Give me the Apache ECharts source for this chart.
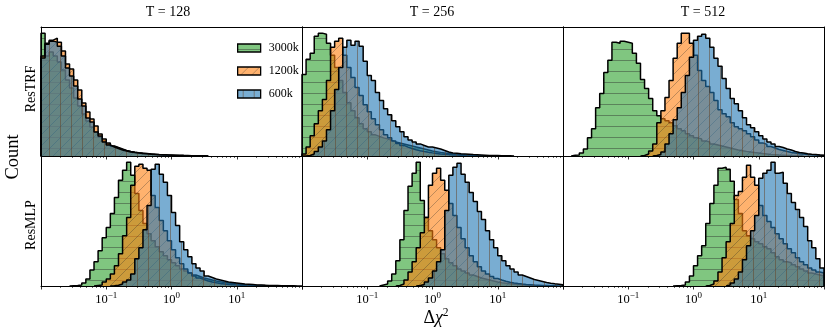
<!DOCTYPE html>
<html>
<head>
<meta charset="utf-8">
<script src="https://cdn.jsdelivr.net/npm/echarts@6/dist/echarts.min.js"></script>
<style>
html,body{margin:0;padding:0;background:#fff;}
#c{width:831px;height:335px;}
</style>
</head>
<body>
<div id="c"></div>
<script>
// ---------------- DATA ----------------
// Histogram bins: log-spaced, 16 bins per decade, from 10^-2 to 10^2
const BIN_LOG_MIN = -2;
const BINS_PER_DECADE = 16;
const columnTitles = ['T = 128', 'T = 256', 'T = 512'];
const rowLabels = ['ResTRF', 'ResMLP'];
const seriesNames = ['3000k', '1200k', '600k'];
const tickLabelValues = [0.1, 1, 10];

// first bin index of each histogram (panel order: TRF128, TRF256, TRF512, MLP128, MLP256, MLP512)
const firstBins = [[0, 0, 0], [0, 0, 0], [2, 19, 22], [7, 13, 17], [19, 23, 28], [27, 35, 40]];

// counts per bin (arbitrary count units)
const trf128_3000k = [123,100,104,100,94,86,76,68,58,50,42,35,29,24,19,15,12,9.5,8,6.5,5.3,4.4,3.7,3.1,2.6,2.2,1.9,1.6,1.3,1.1,0.9,0.8,0.6,0.5,0.4,0.35,0.3,0.2,0.15,0.1,0.1];
const trf128_1200k = [100,113,116,118,114,105,92,87,76,66,53,44,37,30,22,17,13,10,8.5,7,5.5,4.5,3.8,3.2,2.8,2.4,2,1.7,1.4,1.2,1,0.8,0.7,0.6,0.5,0.4,0.3,0.25,0.2,0.15,0.1];
const trf128_600k  = [98,112,115,114,110,100,88,80,70,57,50,38,34,24,20,14,11,9,7.5,6,5,4,3.4,3,2.6,2.2,1.8,1.5,1.3,1.1,0.9,0.8,0.6,0.5,0.4,0.35,0.3,0.2,0.15,0.1,0.1];

const trf256_3000k = [81,96,102,119,122,121,112,100,88,75,63,53,45,38,32,27,24,21,19.5,18,17,15.5,14,13,12,11,10,9,8,7,6,5,4.3,3.6,3,2.5,2,1.6,1.3,1,0.8,0.6,0.4,0.3,0.2,0.1];
const trf256_1200k = [2,9,20,32,45,56,75,108,114,117,100,88,78,68,60,51,44,37,31,26,21,18,15,12.5,10.5,8.8,7.4,6.2,5.2,4.4,3.7,3.1,2.6,2.1,1.7,1.4,1.1,0.9,0.7,0.5,0.4,0.3,0.2,0.1];
const trf256_600k  = [0,0.5,2,4.5,9,15,26,45,66,88,108,115,110,114,109,94,80,75,63,55,47,41,35,29,24,19,16,14,12,10.5,9,9,8,7,5.5,4,3,2.7,2.3,2,1.7,1.4,1.2,1,0.8,0.6,0.5,0.4,0.3,0.2,0.2,0.1];

const trf512_3000k = [0.7,1,3,7,18,27,48,62,83,95,113,112,114,113,112,102,92,76,67,57,45,40,37,35,33,30,27,25,22,20,18,17,15,14,12,11,10,9,8,7,6,5.3,4.6,4,3.4,2.9,2.4,2,1.6,1.3,1,0.8,0.6,0.4,0.3,0.2,0.1];
const trf512_1200k = [0.5,2,5,12,33,45,58,75,97,112,122,122,112,100,85,75,69,63,55,46,42,39,33,29,27,25,22,19,16,13,11.5,9.5,8,6.5,5.5,4.5,3.5,3,2.3,2,1.6,1.3,1,0.8,0.6];
const trf512_600k  = [0.5,1.5,4,12,22,36,48,63,80,98,115,119,121,117,108,97,89,77,67,57,52,45,38,31,28,24,20,17,14,12,9.5,8.5,7,6,4.5,3.5,3,2.3,1.8,1.5,1,0.7];

const mlp128_3000k = [0.3,0.6,1,3,7,16,24,35,48,58,72,88,105,115,123,110,92,75,62,52,45,39,34,30,26,23,20,17,15,13,11,9.5,8,7,6,5,4.2,3.5,2.9,2.4,2,1.6,1.3,1,0.8,0.6,0.5,0.4,0.3,0.2,0.1];
const mlp128_1200k = [0.5,1,4,7,12,20,32,50,68,100,119,121,117,115,90,78,65,55,45,36,28,22,17,13,10,8,6.5,5,4,3.2,2.5,2,1.6,1.3,1,0.8,0.6,0.4,0.3,0.2,0.1];
const mlp128_600k  = [0.3,0.8,2,4,6,12,27,38,56,80,116,121,111,103,90,73,60,44,36,29,22,18,15,10,8.5,7,6,5,4,3.5,3,2.5,2,1.7,1.4,1.1,0.9,0.7,0.6,0.5,0.4,0.3,0.3,0.2,0.2,0.1,0.1];

const mlp256_3000k = [1,2,5,12,25,46,75,99,112,123,85,68,55,46,38,32,27,23,20,17,15,13,11,9.5,8,7,6,5,4,3.3,2.7,2.2,1.8,1.4,1.1,0.8,0.6,0.4,0.3,0.2,0.1];
const mlp256_1200k = [0.5,2,6,14,24,38,53,68,100,112,117,105,95,82,70,58,47,38,30,24,19,15,12,9.5,7.5,6,4.8,3.8,3,2.4,1.9,1.5,1.2,0.9,0.7,0.5,0.4,0.3,0.2,0.1,0.1];
const mlp256_600k  = [0.5,1.5,4,8,15,24,36,75,110,118,122,111,103,93,84,74,66,55,46,38,30,25,20,17,14,11,9.5,8,6.5,5.5,4.5,3.5,2.8,2.2,1.7,1.2];

const mlp512_3000k = [0.3,0.5,1,4,10,20,30,40,62,82,100,117,118,116,104,86,72,55,50,47,44,42,39,37,33,29,26,24,23,21,19,17,15,13,12,11,10];
const mlp512_1200k = [0.5,2,5,14,28,44,62,90,94,108,120,108,100,80,70,64,58,52,47,42,37,33,28,24,21,18,16,14,13];
const mlp512_600k  = [1,3,7,14,26,40,55,70,107,112,115,123,112,113,102,92,83,76,68,59,45,38,27,18];

const panelCounts = [
  [trf128_3000k, trf128_1200k, trf128_600k],
  [trf256_3000k, trf256_1200k, trf256_600k],
  [trf512_3000k, trf512_1200k, trf512_600k],
  [mlp128_3000k, mlp128_1200k, mlp128_600k],
  [mlp256_3000k, mlp256_1200k, mlp256_600k],
  [mlp512_3000k, mlp512_1200k, mlp512_600k]
];

// ---------------- LAYOUT / STYLE ----------------
const FONT = '"Liberation Serif", "Times New Roman", serif';
const X_MIN = 0.01, X_MAX = 100;
const colLeft = [41, 302, 563];
const colWidth = 261;
const rowTop = [27, 156];
const rowHeight = [129, 130];

const majorTicks = [];
const minorTicks = [];
for (let e = -2; e <= 2; e++) {
  majorTicks.push(Math.pow(10, e));
  if (e < 2) for (let m = 2; m <= 9; m++) minorTicks.push(m * Math.pow(10, e));
}

function binEdge(k) { return Math.pow(10, BIN_LOG_MIN + k / BINS_PER_DECADE); }
function histPoints(first, counts) {
  const pts = [[binEdge(first), 0]];
  counts.forEach((c, i) => pts.push([binEdge(first + i), c]));
  pts.push([binEdge(first + counts.length), 0]);
  return pts;
}

function makePattern(rgb, hatch, lineCol) {
  const s = 11;
  const cv = document.createElement('canvas');
  cv.width = s; cv.height = s;
  const ctx = cv.getContext('2d');
  ctx.fillStyle = 'rgba(' + rgb + ',0.6)';
  ctx.fillRect(0, 0, s, s);
  ctx.strokeStyle = lineCol;
  ctx.lineWidth = 1;
  ctx.beginPath();
  if (hatch === '-') { ctx.moveTo(0, 5.5); ctx.lineTo(s, 5.5); }
  else if (hatch === '|') { ctx.moveTo(5.5, 0); ctx.lineTo(5.5, s); }
  else {
    ctx.moveTo(-1, s + 1); ctx.lineTo(s + 1, -1);
    ctx.moveTo(-2, 2); ctx.lineTo(2, -2);
    ctx.moveTo(s - 2, s + 2); ctx.lineTo(s + 2, s - 2);
  }
  ctx.stroke();
  return { image: cv, repeat: 'repeat' };
}
const patterns = [
  makePattern('44,160,44', '-', 'rgba(40,40,40,0.42)'),
  makePattern('255,127,14', '/', 'rgba(40,40,40,0.3)'),
  makePattern('31,119,180', '|', 'rgba(100,65,35,0.5)')
];

const grids = [], xAxes = [], yAxes = [], series = [];
panelCounts.forEach((counts, g) => {
  const row = Math.floor(g / 3), col = g % 3;
  grids.push({ left: colLeft[col], top: rowTop[row], width: colWidth, height: rowHeight[row],
    containLabel: false, outerBoundsMode: 'none' });
  const isBottom = row === 1;
  const axisLineStyle = { color: '#000', width: 1 };
  xAxes.push({
    type: 'log', logBase: 10, gridIndex: g, min: X_MIN, max: X_MAX, position: 'bottom', z: 20,
    axisLine: { show: true, onZero: false, lineStyle: axisLineStyle },
    axisTick: { show: true, inside: false, length: 3.5, lineStyle: { color: '#000', width: 0.8 }, customValues: majorTicks },
    axisLabel: isBottom ? {
      show: true, customValues: tickLabelValues, margin: 5, color: '#000',
      formatter: function (v) {
        const e = Math.round(Math.log10(v));
        return '{b|10}{s|' + (e < 0 ? '\u2212' : '') + Math.abs(e) + '}';
      },
      rich: {
        b: { fontFamily: FONT, fontSize: 12.5, color: '#000', lineHeight: 15, verticalAlign: 'bottom' },
        s: { fontFamily: FONT, fontSize: 9, color: '#000', lineHeight: 15, verticalAlign: 'top' }
      }
    } : { show: false },
    splitLine: { show: false }
  });
  xAxes.push({
    type: 'log', logBase: 10, gridIndex: g, min: X_MIN, max: X_MAX, position: 'bottom', z: 20,
    axisLine: { show: false, onZero: false },
    axisTick: { show: true, inside: false, length: 2, lineStyle: { color: '#000', width: 0.6 }, customValues: minorTicks },
    axisLabel: { show: false }, splitLine: { show: false }
  });
  xAxes.push({
    type: 'log', logBase: 10, gridIndex: g, min: X_MIN, max: X_MAX, position: 'top', z: 20,
    axisLine: { show: true, onZero: false, lineStyle: axisLineStyle },
    axisTick: { show: false }, axisLabel: { show: false }, splitLine: { show: false }
  });
  let mx = 0;
  counts.forEach(arr => arr.forEach(v => { if (v > mx) mx = v; }));
  const ymax = mx * 1.05;
  ['left', 'right'].forEach(pos => {
    yAxes.push({
      type: 'value', gridIndex: g, min: 0, max: ymax, position: pos, z: 20,
      axisLine: { show: true, onZero: false, lineStyle: axisLineStyle },
      axisTick: { show: false }, axisLabel: { show: false }, splitLine: { show: false }
    });
  });
  counts.forEach((arr, s) => {
    series.push({
      type: 'line', name: seriesNames[s], xAxisIndex: 3 * g, yAxisIndex: 2 * g,
      data: histPoints(firstBins[g][s], arr),
      step: 'end', symbol: 'none', showSymbol: false,
      z: 2 + s,
      lineStyle: { color: '#000', width: 1.5 },
      areaStyle: { color: patterns[s], opacity: 1 },
      itemStyle: { color: patterns[s], borderColor: '#000', borderWidth: 1.2 },
      emphasis: { disabled: true }, silent: true, animation: false
    });
  });
});

const graphics = [];
const titleX = [168, 432, 703];
columnTitles.forEach((t, i) => graphics.push({
  type: 'text', x: titleX[i], y: 12,
  style: { text: t, font: '14px ' + FONT, fill: '#000', align: 'center', verticalAlign: 'middle' }
}));
const rowLabelY = [89, 225];
rowLabels.forEach((t, i) => graphics.push({
  type: 'text', x: 31, y: rowLabelY[i], rotation: Math.PI / 2,
  style: { text: t, font: '14px ' + FONT, fill: '#000', align: 'center', verticalAlign: 'middle' }
}));
graphics.push({
  type: 'text', x: 13, y: 157, rotation: Math.PI / 2,
  style: { text: 'Count', font: '18.5px ' + FONT, fill: '#000', align: 'center', verticalAlign: 'middle' }
});
graphics.push({
  type: 'text', x: 436, y: 317,
  style: {
    text: '{a|\u0394}{b|\u03c7}{c|2}', align: 'center', verticalAlign: 'middle',
    rich: {
      a: { fontFamily: FONT, fontSize: 18, fill: '#000', lineHeight: 20, verticalAlign: 'bottom' },
      b: { fontFamily: FONT, fontSize: 18, fontStyle: 'italic', fill: '#000', lineHeight: 20, verticalAlign: 'bottom' },
      c: { fontFamily: FONT, fontSize: 11.5, fill: '#000', lineHeight: 20, verticalAlign: 'top' }
    }
  }
});

const chart = echarts.init(document.getElementById('c'), null, { renderer: 'canvas', width: 831, height: 335 });
chart.setOption({
  animation: false,
  backgroundColor: '#fff',
  grid: grids,
  xAxis: xAxes,
  yAxis: yAxes,
  legend: {
    orient: 'vertical', left: 232, top: 37, itemWidth: 23, itemHeight: 8, itemGap: 11, z: 30,
    textStyle: { fontFamily: FONT, fontSize: 12, color: '#000', lineHeight: 8, padding: [0, 0, 0, 3] },
    selectedMode: false,
    data: seriesNames.map((n, i) => ({ name: n, icon: 'rect',
      itemStyle: { color: patterns[i], borderColor: '#000', borderWidth: 1.3 } }))
  },
  graphic: graphics,
  series: series
});
</script>
</body>
</html>
